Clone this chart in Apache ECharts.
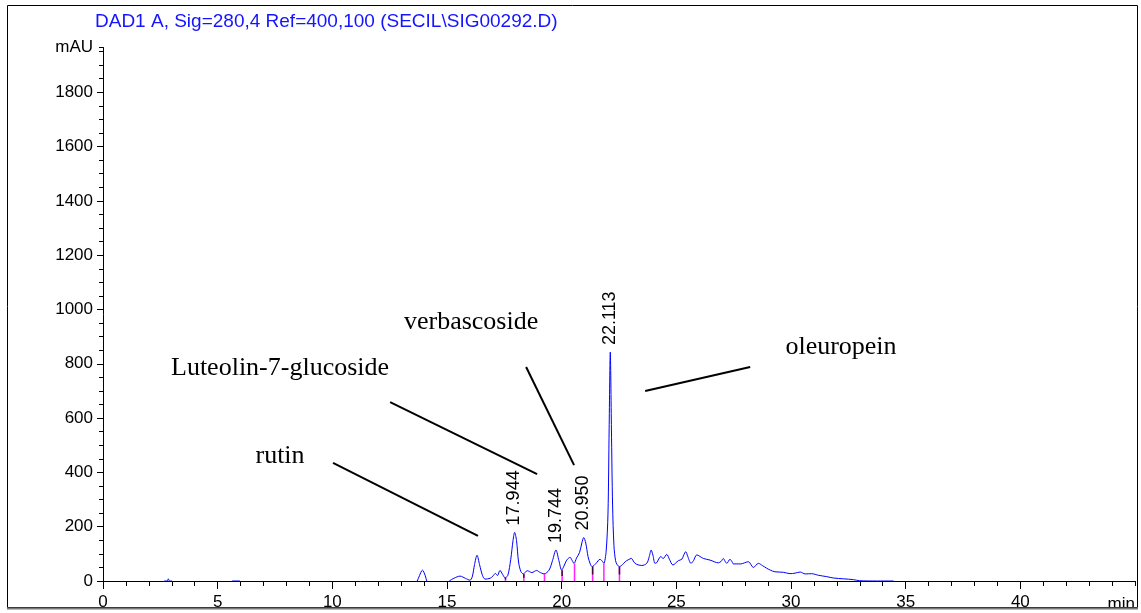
<!DOCTYPE html>
<html><head><meta charset="utf-8">
<script src="https://cdn.jsdelivr.net/npm/echarts@6/dist/echarts.min.js"></script>
<style>html,body{margin:0;padding:0;background:#fff}#c{width:1141px;height:613px}</style>
</head><body><div id="c"></div>
<script>
// ---------- data ----------
const titleText = 'DAD1 A, Sig=280,4 Ref=400,100 (SECIL\\SIG00292.D)';
const yUnit = 'mAU';
const xUnit = 'min';
const xRange = [0, 45];
const yRange = [0, 1965];

const timeMin = [0, 2.5, 2.7, 2.8, 2.85, 2.9, 3.0, 3.1, 5.55, 5.65, 5.95, 6.05, 13.6, 13.7, 13.8, 13.93, 14.05, 14.12, 14.2,
  15.0, 15.1, 15.3, 15.57, 15.8, 16.0, 16.1, 16.2, 16.31, 16.42, 16.55, 16.66, 16.88, 17.0, 17.11, 17.2, 17.31, 17.42, 17.53,
  17.65, 17.78, 17.88, 17.95, 18.03, 18.12, 18.22, 18.33, 18.5, 18.7, 18.91, 19.03, 19.23, 19.45, 19.6, 19.75, 19.88, 20.0,
  20.1, 20.22, 20.37, 20.46, 20.54, 20.65, 20.78, 20.88, 20.96, 21.05, 21.15, 21.25, 21.33, 21.5, 21.67, 21.78, 21.84, 21.94,
  22.02, 22.07, 22.12, 22.17, 22.22, 22.28, 22.35, 22.42, 22.52, 22.65, 22.77, 22.9, 23.04, 23.15, 23.25, 23.49, 23.71, 23.82,
  23.9, 23.98, 24.07, 24.15, 24.32, 24.43, 24.58, 24.7, 24.85, 25.09, 25.24, 25.32, 25.41, 25.5, 25.64, 25.75, 25.89, 26.18,
  26.47, 26.83, 26.95, 27.05, 27.13, 27.2, 27.34, 27.42, 27.49, 27.8, 28.14, 28.36, 28.58, 28.75, 28.94, 29.1, 29.3, 29.67,
  29.96, 30.18, 30.4, 30.62, 30.9, 31.2, 31.56, 31.85, 32.29, 32.72, 33.0, 33.74, 34.45, 34.6, 45];
const signalMAU = [-8, -8, 0, 0, 8, 0, 0, -8, -8, 0, 0, -8, -8, 0, 20, 40, 20, 0, -8,
  -8, 0, 10, 18, 10, 3, 15, 60, 95, 60, 20, 7, 10, 18, 28, 20, 39, 25, 12,
  20, 80, 150, 179, 150, 70, 35, 26, 38, 31, 39, 33, 26, 40, 75, 114, 75, 40,
  55, 77, 87, 75, 65, 85, 105, 140, 160, 140, 90, 62, 53, 65, 80, 72, 65, 110,
  250, 560, 843, 560, 280, 130, 75, 60, 53, 60, 71, 78, 83, 70, 62, 57, 65, 90,
  114, 95, 65, 68, 90, 83, 98, 80, 59, 75, 80, 95, 108, 90, 65, 75, 96, 83,
  77, 67, 72, 83, 72, 65, 80, 72, 63, 63, 71, 50, 65, 57, 47, 40, 34, 32,
  27, 29, 33, 26, 27, 21, 16, 11, 8, 5, 1, 0, 0, -8, -8];

const peakRT = [17.944, 19.744, 20.950, 22.113];
const peakApexMAU = [179, 114, 160, 843];

const boundaryRT = [17.55, 18.35, 19.25, 20.02, 20.56, 21.35, 21.84, 22.52];
const boundaryMAU = [12, 26, 26, 40, 65, 53, 65, 53];
const boundaryDark = [true, true, false, true, false, true, false, true];

const compoundNames = ['rutin', 'Luteolin-7-glucoside', 'verbascoside', 'oleuropein'];

// ---------- annotation placement (data coordinates) ----------
const annoText = [[7.72, 460], [7.72, 785], [16.05, 954], [32.18, 862]];
const annoLine = [[10.03, 435, 16.35, 166], [12.52, 659, 18.93, 394], [18.45, 788, 20.54, 427], [23.64, 700, 28.22, 788]];

const sans = 'Liberation Sans, Arial, sans-serif';
const serif = 'Liberation Serif, Times New Roman, serif';

const chart = echarts.init(document.getElementById('c'), null, {renderer: 'canvas'});

function segItem(color, from) {
  return function (params, api) {
    const t = api.value(0), h = api.value(1), dark = api.value(2);
    if (from === 'dark' && !dark) return null;
    const y0 = from === 'dark' ? h * 0.45 : 0;
    const p1 = api.coord([t, y0]);
    const p2 = api.coord([t, h]);
    return {type: 'line', shape: {x1: p1[0], y1: p1[1], x2: p2[0], y2: p2[1]},
      style: {stroke: color, lineWidth: 1.5}};
  };
}

const gridBox = {left: 103, right: 6, top: 47.5, bottom: 32};

const option = {
  animation: false,
  backgroundColor: '#fff',
  title: {
    text: titleText, left: 90, top: 7,
    textStyle: {color: '#1414ff', fontSize: 19, fontWeight: 'normal', fontFamily: sans}
  },
  grid: [Object.assign({}, gridBox), Object.assign({}, gridBox)],
  xAxis: [{
    gridIndex: 0, type: 'value', min: xRange[0], max: xRange[1], interval: 5,
    axisLine: {lineStyle: {color: '#000', width: 1}},
    axisTick: {length: 8, lineStyle: {color: '#000'}},
    axisLabel: {color: '#000', fontSize: 17, fontFamily: sans, margin: 13, showMaxLabel: false},
    splitLine: {show: false},
    name: xUnit, nameLocation: 'end', nameGap: 0,
    nameTextStyle: {color: '#000', fontSize: 17, fontFamily: sans, align: 'right', verticalAlign: 'top', padding: [15, 0, 0, 0]}
  }, {
    gridIndex: 1, type: 'value', min: xRange[0], max: xRange[1], interval: 1,
    axisLine: {show: false},
    axisTick: {show: true, length: 5, lineStyle: {color: '#000'}},
    axisLabel: {show: false},
    splitLine: {show: false}
  }],
  yAxis: [{
    gridIndex: 0, type: 'value', min: yRange[0], max: yRange[1], interval: 200,
    axisLine: {show: true, lineStyle: {color: '#000', width: 1}},
    axisTick: {show: true, length: 6, lineStyle: {color: '#000'}},
    axisLabel: {color: '#000', fontSize: 17, fontFamily: sans, margin: 10, showMaxLabel: false, formatter: v => String(v)},
    splitLine: {show: false},
    name: yUnit, nameLocation: 'end', nameGap: 0,
    nameTextStyle: {color: '#000', fontSize: 17, fontFamily: sans, align: 'right', verticalAlign: 'middle', padding: [0, 10, 0, 0]}
  }, {
    gridIndex: 1, type: 'value', min: yRange[0], max: yRange[1], interval: 50,
    axisLine: {show: false},
    axisTick: {show: true, length: 4, lineStyle: {color: '#000'}},
    axisLabel: {show: false},
    splitLine: {show: false}
  }],
  graphic: [
    {type: 'rect', shape: {x: 7.5, y: 5.5, width: 1130, height: 602}, style: {fill: 'none', stroke: '#000', lineWidth: 1}, z: 100},
    {type: 'line', shape: {x1: 7, y1: 608.5, x2: 1138, y2: 608.5}, style: {stroke: '#777', lineWidth: 2}, z: 101}
  ],
  series: [
    {
      type: 'line', name: 'signal', xAxisIndex: 0, yAxisIndex: 0,
      data: timeMin.map((t, i) => [t, signalMAU[i]]),
      showSymbol: false, smooth: 0.3,
      lineStyle: {color: '#0000ff', width: 1}, z: 3
    },
    {
      type: 'custom', name: 'boundaries', xAxisIndex: 0, yAxisIndex: 0,
      data: boundaryRT.map((t, i) => [t, boundaryMAU[i], boundaryDark[i] ? 1 : 0]),
      renderItem: segItem('#ff22ff', 'pink'), z: 4
    },
    {
      type: 'custom', name: 'boundariesDark', xAxisIndex: 0, yAxisIndex: 0,
      data: boundaryRT.map((t, i) => [t, boundaryMAU[i], boundaryDark[i] ? 1 : 0]),
      renderItem: segItem('#3a103a', 'dark'), z: 5
    },
    {
      type: 'scatter', name: 'peakLabels', xAxisIndex: 0, yAxisIndex: 0, symbolSize: 0,
      itemStyle: {opacity: 1},
      data: peakRT.map((t, i) => ({value: [t, peakApexMAU[i]], name: t.toFixed(3)})),
      label: {show: true, position: 'top', distance: 7, rotate: 90, align: 'left', verticalAlign: 'middle',
        formatter: p => p.name, color: '#000', fontSize: 18, fontFamily: sans}, z: 6
    },
    {
      type: 'custom', name: 'leaders', xAxisIndex: 0, yAxisIndex: 0, clip: false,
      data: annoLine,
      renderItem: function (params, api) {
        const p1 = api.coord([api.value(0), api.value(1)]);
        const p2 = api.coord([api.value(2), api.value(3)]);
        return {type: 'line', shape: {x1: p1[0], y1: p1[1], x2: p2[0], y2: p2[1]}, style: {stroke: '#000', lineWidth: 2}};
      }, z: 6
    },
    {
      type: 'scatter', name: 'compounds', xAxisIndex: 0, yAxisIndex: 0, symbolSize: 0,
      itemStyle: {opacity: 1},
      data: compoundNames.map((n, i) => ({value: annoText[i], name: n})),
      label: {show: true, position: 'inside', formatter: p => p.name, color: '#000', fontSize: 26, fontFamily: serif}, z: 6
    }
  ]
};
chart.setOption(option);
</script></body></html>
